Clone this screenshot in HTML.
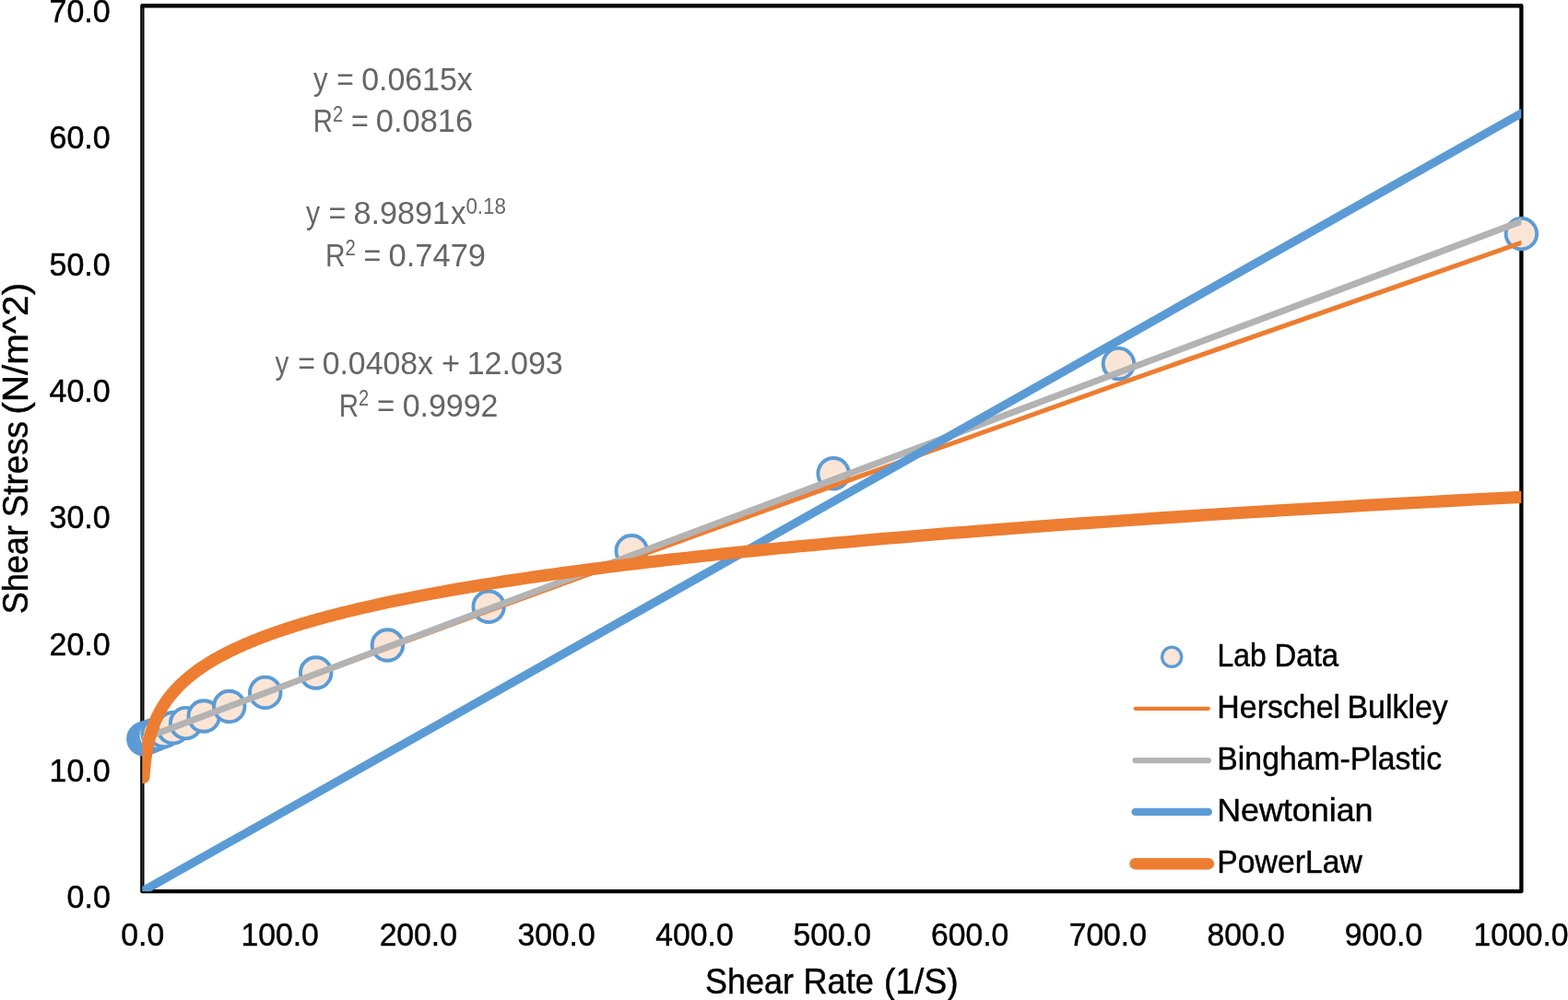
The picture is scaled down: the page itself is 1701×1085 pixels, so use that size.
<!DOCTYPE html>
<html lang="en"><head><meta charset="utf-8"><title>Shear Stress vs Shear Rate</title>
<style>html,body{margin:0;padding:0;background:#fff;}body{width:1701px;height:1085px;overflow:hidden;}svg{display:block;}</style></head>
<body>
<svg width="1701" height="1085" viewBox="0 0 1701 1085" font-family='"Liberation Sans", Arial, sans-serif' role="img" aria-label="Shear Stress versus Shear Rate chart">
<defs><clipPath id="plot"><rect x="154.35" y="6.25" width="1496.0500000000002" height="960.9"/></clipPath></defs>
<rect x="0" y="0" width="1701" height="1085" fill="#ffffff"/>
<rect x="154.35" y="6.25" width="1496.0500000000002" height="960.9" fill="none" stroke="#000" stroke-width="4.3" stroke-linejoin="round"/>
<line x1="154.45" y1="9" x2="154.45" y2="964.5" stroke="#606060" stroke-width="0.8"/>
<g fill="#FBE5D6" stroke="#5B9BD5" stroke-width="3.9">
<circle cx="155.85" cy="801.75" r="16.75"/>
<circle cx="156.46" cy="801.52" r="16.75"/>
<circle cx="157.34" cy="801.19" r="16.75"/>
<circle cx="158.57" cy="800.73" r="16.75"/>
<circle cx="160.31" cy="800.08" r="16.75"/>
<circle cx="162.76" cy="799.16" r="16.75"/>
<circle cx="166.23" cy="797.86" r="16.75"/>
<circle cx="171.14" cy="796.03" r="16.75"/>
<circle cx="178.06" cy="793.44" r="16.75"/>
<circle cx="187.84" cy="789.77" r="16.75"/>
<circle cx="201.66" cy="784.60" r="16.75"/>
<circle cx="221.18" cy="777.05" r="16.75"/>
<circle cx="248.74" cy="766.48" r="16.75"/>
<circle cx="287.69" cy="751.38" r="16.75"/>
<circle cx="342.69" cy="729.97" r="16.75"/>
<circle cx="420.39" cy="700.05" r="16.75"/>
<circle cx="530.14" cy="658.18" r="16.75"/>
<circle cx="685.17" cy="597.78" r="16.75"/>
<circle cx="904.15" cy="513.77" r="16.75"/>
<circle cx="1213.47" cy="394.62" r="16.75"/>
<circle cx="1650.40" cy="253.64" r="16.75"/>
</g>
<g clip-path="url(#plot)" fill="none" stroke-linecap="round" stroke-linejoin="round">
<polyline points="155.85,801.29 156.46,801.05 157.34,800.73 158.57,800.27 160.31,799.61 162.76,798.69 166.23,797.39 171.14,795.55 178.06,792.96 187.84,789.30 201.66,784.13 221.18,776.84 248.74,766.57 287.69,752.08 342.69,731.68 420.39,702.99 530.14,662.67 685.17,606.12 904.15,526.99 1213.47,416.63 1650.40,263.38" stroke="#ED7D31" stroke-width="5.1"/>
<line x1="155.85" y1="801.29" x2="1650.40" y2="240.18" stroke="#B3B3B3" stroke-width="7.1"/>
<line x1="155.85" y1="966.31" x2="1650.40" y2="122.93" stroke="#5B9BD5" stroke-width="9.2"/>
<polyline points="155.88,843.31 155.90,842.93 155.93,842.54 155.96,842.16 155.98,841.77 156.01,841.38 156.04,840.99 156.07,840.60 156.10,840.21 156.13,839.81 156.16,839.42 156.19,839.02 156.23,838.62 156.26,838.22 156.29,837.82 156.33,837.42 156.36,837.02 156.39,836.61 156.43,836.21 156.47,835.80 156.50,835.40 156.54,834.99 156.58,834.58 156.62,834.16 156.66,833.75 156.70,833.34 156.74,832.92 156.78,832.51 156.82,832.09 156.86,831.67 156.91,831.25 156.95,830.83 157.00,830.40 157.04,829.98 157.09,829.55 157.14,829.12 157.19,828.70 157.24,828.27 157.29,827.84 157.34,827.40 157.39,826.97 157.44,826.53 157.50,826.10 157.55,825.66 157.61,825.22 157.66,824.78 157.72,824.34 157.78,823.89 157.84,823.45 157.90,823.00 157.96,822.56 158.02,822.11 158.09,821.66 158.15,821.20 158.22,820.75 158.28,820.30 158.35,819.84 158.42,819.38 158.49,818.93 158.56,818.47 158.64,818.00 158.71,817.54 158.79,817.08 158.87,816.61 158.94,816.14 159.02,815.67 159.10,815.20 159.19,814.73 159.27,814.26 159.36,813.78 159.44,813.31 159.53,812.83 159.62,812.35 159.71,811.87 159.81,811.39 159.90,810.91 160.00,810.42 160.10,809.93 160.20,809.45 160.30,808.96 160.40,808.47 160.51,807.97 160.61,807.48 160.72,806.98 160.83,806.49 160.95,805.99 161.06,805.49 161.18,804.98 161.29,804.48 161.42,803.98 161.54,803.47 161.66,802.96 161.79,802.45 161.92,801.94 162.05,801.43 162.18,800.91 162.32,800.40 162.46,799.88 162.60,799.36 162.74,798.84 162.89,798.32 163.04,797.79 163.19,797.27 163.34,796.74 163.50,796.21 163.66,795.68 163.82,795.15 163.98,794.61 164.15,794.08 164.32,793.54 164.49,793.00 164.67,792.46 164.85,791.92 165.03,791.38 165.22,790.83 165.41,790.28 165.60,789.73 165.79,789.18 165.99,788.63 166.19,788.08 166.40,787.52 166.61,786.96 166.82,786.40 167.04,785.84 167.26,785.28 167.48,784.71 167.71,784.15 167.94,783.58 168.18,783.01 168.42,782.44 168.66,781.86 168.91,781.29 169.17,780.71 169.42,780.13 169.68,779.55 169.95,778.97 170.22,778.39 170.50,777.80 170.78,777.21 171.06,776.62 171.35,776.03 171.65,775.44 171.95,774.84 172.25,774.25 172.57,773.65 172.88,773.05 173.20,772.44 173.53,771.84 173.86,771.23 174.20,770.63 174.55,770.01 174.90,769.40 175.26,768.79 175.62,768.17 175.99,767.56 176.36,766.94 176.75,766.31 177.14,765.69 177.53,765.07 177.93,764.44 178.34,763.81 178.76,763.18 179.18,762.54 179.62,761.91 180.06,761.27 180.50,760.63 180.96,759.99 181.42,759.35 181.89,758.70 182.37,758.06 182.85,757.41 183.35,756.76 183.85,756.10 184.36,755.45 184.89,754.79 185.42,754.13 185.96,753.47 186.50,752.81 187.06,752.14 187.63,751.47 188.21,750.80 188.80,750.13 189.40,749.46 190.00,748.78 190.62,748.11 191.25,747.43 191.89,746.74 192.55,746.06 193.21,745.37 193.89,744.68 194.57,743.99 195.27,743.30 195.98,742.61 196.70,741.91 197.44,741.21 198.19,740.51 198.95,739.80 199.72,739.10 200.51,738.39 201.31,737.68 202.13,736.97 202.96,736.25 203.80,735.54 204.66,734.82 205.54,734.10 206.43,733.37 207.33,732.65 208.25,731.92 209.19,731.19 210.14,730.46 211.11,729.72 212.09,728.99 213.10,728.25 214.12,727.50 215.16,726.76 216.21,726.01 217.29,725.27 218.38,724.51 219.49,723.76 220.62,723.01 221.77,722.25 222.95,721.49 224.14,720.72 225.35,719.96 226.58,719.19 227.84,718.42 229.11,717.65 230.41,716.88 231.73,716.10 233.08,715.32 234.44,714.54 235.84,713.75 237.25,712.97 238.69,712.18 240.16,711.39 241.65,710.59 243.16,709.80 244.70,709.00 246.27,708.20 247.87,707.39 249.50,706.59 251.15,705.78 252.83,704.97 254.54,704.15 256.28,703.33 258.05,702.52 259.85,701.69 261.68,700.87 263.55,700.04 265.44,699.21 267.37,698.38 269.34,697.55 271.33,696.71 273.37,695.87 275.43,695.03 277.54,694.18 279.68,693.34 281.85,692.49 284.07,691.63 286.32,690.78 288.61,689.92 290.94,689.06 293.32,688.20 295.73,687.33 298.19,686.46 300.69,685.59 303.23,684.72 305.81,683.84 308.44,682.96 311.12,682.08 313.84,681.19 316.61,680.31 319.43,679.42 322.30,678.52 325.22,677.63 328.18,676.73 331.20,675.83 334.27,674.92 337.40,674.01 340.58,673.10 343.81,672.19 347.10,671.28 350.45,670.36 353.86,669.44 357.32,668.51 360.85,667.58 364.44,666.65 368.09,665.72 371.80,664.79 375.57,663.85 379.42,662.91 383.33,661.96 387.30,661.01 391.35,660.06 395.47,659.11 399.65,658.15 403.91,657.19 408.25,656.23 412.66,655.27 417.15,654.30 421.71,653.33 426.35,652.35 431.08,651.38 435.88,650.40 440.77,649.41 445.75,648.43 450.81,647.44 455.96,646.44 461.20,645.45 466.53,644.45 471.95,643.45 477.47,642.44 483.08,641.44 488.79,640.42 494.60,639.41 500.51,638.39 506.52,637.37 512.64,636.35 518.86,635.32 525.19,634.29 531.63,633.26 538.19,632.22 544.85,631.18 551.63,630.14 558.53,629.09 565.56,628.04 572.70,626.99 579.96,625.93 587.36,624.88 594.88,623.81 602.53,622.75 610.31,621.68 618.23,620.61 626.29,619.53 634.49,618.45 642.83,617.37 651.31,616.28 659.94,615.19 668.72,614.10 677.66,613.00 686.75,611.90 695.99,610.80 705.40,609.70 714.97,608.59 724.71,607.47 734.62,606.36 744.70,605.24 754.95,604.11 765.38,602.99 776.00,601.85 786.79,600.72 797.78,599.58 808.95,598.44 820.32,597.30 831.89,596.15 843.66,595.00 855.63,593.84 867.81,592.68 880.20,591.52 892.81,590.36 905.64,589.19 918.69,588.01 931.96,586.84 945.47,585.65 959.21,584.47 973.19,583.28 987.41,582.09 1001.88,580.90 1016.60,579.70 1031.58,578.49 1046.81,577.29 1062.32,576.08 1078.09,574.86 1094.13,573.64 1110.45,572.42 1127.06,571.20 1143.96,569.97 1161.14,568.74 1178.63,567.50 1196.42,566.26 1214.52,565.01 1232.94,563.76 1251.67,562.51 1270.73,561.26 1290.12,560.00 1309.85,558.73 1329.92,557.46 1350.33,556.19 1371.11,554.92 1392.24,553.64 1413.74,552.35 1435.62,551.07 1457.87,549.77 1480.51,548.48 1503.55,547.18 1526.98,545.87 1550.82,544.57 1575.08,543.26 1599.75,541.94 1624.86,540.62 1650.40,539.30" stroke="#ED7D31" stroke-width="13.3"/>
</g>
<text transform="translate(72.60 985.05) scale(0.9920 1)" font-size="34.2" fill="#000" stroke="#000" stroke-width="0.45">0.0</text>
<text transform="translate(53.60 847.78) scale(0.9920 1)" font-size="34.2" fill="#000" stroke="#000" stroke-width="0.45">10.0</text>
<text transform="translate(53.60 710.51) scale(0.9920 1)" font-size="34.2" fill="#000" stroke="#000" stroke-width="0.45">20.0</text>
<text transform="translate(53.60 573.24) scale(0.9920 1)" font-size="34.2" fill="#000" stroke="#000" stroke-width="0.45">30.0</text>
<text transform="translate(53.60 435.96) scale(0.9920 1)" font-size="34.2" fill="#000" stroke="#000" stroke-width="0.45">40.0</text>
<text transform="translate(53.60 298.69) scale(0.9920 1)" font-size="34.2" fill="#000" stroke="#000" stroke-width="0.45">50.0</text>
<text transform="translate(53.60 161.42) scale(0.9920 1)" font-size="34.2" fill="#000" stroke="#000" stroke-width="0.45">60.0</text>
<text transform="translate(53.60 24.15) scale(0.9920 1)" font-size="34.2" fill="#000" stroke="#000" stroke-width="0.45">70.0</text>
<text transform="translate(131.29 1026.40) scale(0.9850 1)" font-size="34.2" fill="#000" stroke="#000" stroke-width="0.45">0.0</text>
<text transform="translate(261.52 1026.40) scale(0.9850 1)" font-size="34.2" fill="#000" stroke="#000" stroke-width="0.45">100.0</text>
<text transform="translate(411.63 1026.40) scale(0.9850 1)" font-size="34.2" fill="#000" stroke="#000" stroke-width="0.45">200.0</text>
<text transform="translate(561.41 1026.40) scale(0.9850 1)" font-size="34.2" fill="#000" stroke="#000" stroke-width="0.45">300.0</text>
<text transform="translate(711.35 1026.40) scale(0.9850 1)" font-size="34.2" fill="#000" stroke="#000" stroke-width="0.45">400.0</text>
<text transform="translate(860.62 1026.40) scale(0.9850 1)" font-size="34.2" fill="#000" stroke="#000" stroke-width="0.45">500.0</text>
<text transform="translate(1010.05 1026.40) scale(0.9850 1)" font-size="34.2" fill="#000" stroke="#000" stroke-width="0.45">600.0</text>
<text transform="translate(1159.66 1026.40) scale(0.9850 1)" font-size="34.2" fill="#000" stroke="#000" stroke-width="0.45">700.0</text>
<text transform="translate(1309.43 1026.40) scale(0.9850 1)" font-size="34.2" fill="#000" stroke="#000" stroke-width="0.45">800.0</text>
<text transform="translate(1458.87 1026.40) scale(0.9850 1)" font-size="34.2" fill="#000" stroke="#000" stroke-width="0.45">900.0</text>
<text transform="translate(1598.54 1026.40) scale(0.9850 1)" font-size="34.2" fill="#000" stroke="#000" stroke-width="0.45">1000.0</text>
<g>
<text transform="translate(764.95 1077.90) scale(0.9464 1)" font-size="38.0" fill="#000" stroke="#000" stroke-width="0.45">Shear</text>
<text transform="translate(871.46 1077.90) scale(0.9508 1)" font-size="38.0" fill="#000" stroke="#000" stroke-width="0.45">Rate</text>
<text transform="translate(959.02 1077.90) scale(0.9782 1)" font-size="38.0" fill="#000" stroke="#000" stroke-width="0.45">(1/S)</text>
</g>
<g transform="translate(29.7 664.8) rotate(-90)">
<text transform="translate(-1.55 0.00) scale(0.9494 1)" font-size="38.0" fill="#000" stroke="#000" stroke-width="0.45">Shear</text>
<text transform="translate(103.51 0.00) scale(0.9684 1)" font-size="38.0" fill="#000" stroke="#000" stroke-width="0.45">Stress</text>
<text transform="translate(215.01 0.00) scale(1.0681 1)" font-size="38.0" fill="#000" stroke="#000" stroke-width="0.45">(N/m^2)</text>
</g>
<g>
<text transform="translate(340.00 97.60) scale(0.9123 1)" font-size="34.2" fill="#666666">y</text>
<text transform="translate(365.21 97.60) scale(0.9320 1)" font-size="34.2" fill="#666666">=</text>
<text transform="translate(392.14 97.60) scale(0.9908 1)" font-size="34.2" fill="#666666">0.0615x</text>
</g>
<g>
<text transform="translate(339.65 143.00) scale(0.8595 1)" font-size="34.2" fill="#666666">R<tspan font-size="23.26" dy="-11.39">2</tspan></text>
<text transform="translate(381.09 143.00) scale(0.9442 1)" font-size="34.2" fill="#666666">=</text>
<text transform="translate(407.82 143.00) scale(1.0062 1)" font-size="34.2" fill="#666666">0.0816</text>
</g>
<g>
<text transform="translate(332.00 243.40) scale(0.8830 1)" font-size="34.2" fill="#666666">y</text>
<text transform="translate(356.49 243.40) scale(0.9442 1)" font-size="34.2" fill="#666666">=</text>
<text transform="translate(383.53 243.40) scale(1.0003 1)" font-size="34.2" fill="#666666">8.9891</text>
<text transform="translate(488.97 243.40) scale(0.9626 1)" font-size="34.2" fill="#666666">x<tspan font-size="23.26" dy="-11.39">0.18</tspan></text>
</g>
<g>
<text transform="translate(352.91 288.80) scale(0.8742 1)" font-size="34.2" fill="#666666">R<tspan font-size="23.26" dy="-11.39">2</tspan></text>
<text transform="translate(394.59 288.80) scale(0.9442 1)" font-size="34.2" fill="#666666">=</text>
<text transform="translate(421.62 288.80) scale(1.0071 1)" font-size="34.2" fill="#666666">0.7479</text>
</g>
<g>
<text transform="translate(298.50 406.20) scale(0.8655 1)" font-size="34.2" fill="#666666">y</text>
<text transform="translate(323.30 406.20) scale(0.9381 1)" font-size="34.2" fill="#666666">=</text>
<text transform="translate(349.65 406.20) scale(0.9883 1)" font-size="34.2" fill="#666666">0.0408x</text>
<text transform="translate(478.88 406.20) scale(1.0051 1)" font-size="34.2" fill="#666666">+</text>
<text transform="translate(506.68 406.20) scale(0.9959 1)" font-size="34.2" fill="#666666">12.093</text>
</g>
<g>
<text transform="translate(367.74 451.60) scale(0.8624 1)" font-size="34.2" fill="#666666">R<tspan font-size="23.26" dy="-11.39">2</tspan></text>
<text transform="translate(409.05 451.60) scale(0.9625 1)" font-size="34.2" fill="#666666">=</text>
<text transform="translate(436.64 451.60) scale(0.9924 1)" font-size="34.2" fill="#666666">0.9992</text>
</g>
<circle cx="1271.2" cy="712.8" r="10.6" fill="#FBE5D6" stroke="#5B9BD5" stroke-width="3.3"/>
<g stroke-linecap="round">
<line x1="1231.6" y1="768.8" x2="1310.9" y2="768.8" stroke="#ED7D31" stroke-width="4.17"/>
<line x1="1231.6" y1="825.0" x2="1310.9" y2="825.0" stroke="#B3B3B3" stroke-width="6.25"/>
<line x1="1231.6" y1="880.9" x2="1310.9" y2="880.9" stroke="#5B9BD5" stroke-width="8.33"/>
<line x1="1231.6" y1="937.2" x2="1310.9" y2="937.2" stroke="#ED7D31" stroke-width="12.5"/>
</g>
<g>
<text transform="translate(1320.50 723.20) scale(0.9319 1)" font-size="34.2" fill="#000" stroke="#000" stroke-width="0.45">Lab</text>
<text transform="translate(1382.51 723.20) scale(0.9651 1)" font-size="34.2" fill="#000" stroke="#000" stroke-width="0.45">Data</text>
</g>
<g>
<text transform="translate(1320.34 779.20) scale(0.9911 1)" font-size="34.2" fill="#000" stroke="#000" stroke-width="0.45">Herschel</text>
<text transform="translate(1461.44 779.20) scale(0.9917 1)" font-size="34.2" fill="#000" stroke="#000" stroke-width="0.45">Bulkley</text>
</g>
<g>
<text transform="translate(1320.35 835.20) scale(0.9873 1)" font-size="34.2" fill="#000" stroke="#000" stroke-width="0.45">Bingham-Plastic</text>
</g>
<g>
<text transform="translate(1320.18 891.30) scale(1.0483 1)" font-size="34.2" fill="#000" stroke="#000" stroke-width="0.45">Newtonian</text>
</g>
<g>
<text transform="translate(1320.35 947.30) scale(0.9861 1)" font-size="34.2" fill="#000" stroke="#000" stroke-width="0.45">PowerLaw</text>
</g>
</svg>
</body></html>
